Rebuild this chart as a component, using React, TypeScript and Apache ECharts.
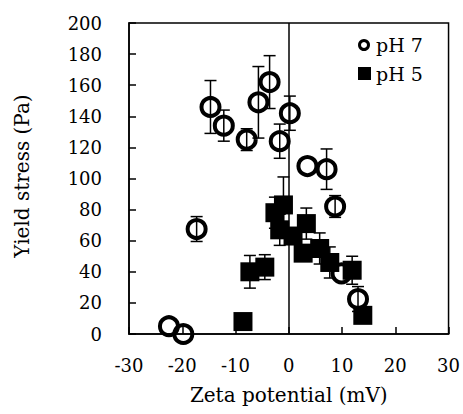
import React, { useEffect, useRef } from "react";
import * as echarts from "echarts";

const ph7X = [-22.5, -19.8, -17.3, -14.7, -12.2, -7.9, -5.7, -3.6, -1.7, 0.2, 3.5, 7.1, 8.7, 9.9, 13.0];
const ph7Y = [5, 0, 67.5, 146, 134, 125, 149, 162, 124, 142, 108, 106, 82, 39, 22.5];
const ph7Err = [0, 0, 8, 17, 10, 7, 23, 17, 11, 11, 0, 13, 7, 0, 8];

const ph5X = [-8.6, -7.3, -4.5, -2.6, -1.0, -1.7, 0.8, 2.7, 3.3, 5.8, 7.7, 11.9, 13.9];
const ph5Y = [8, 40, 43, 78, 83, 67, 63, 52, 71, 55, 46, 41, 12];
const ph5Err = [0, 10.5, 8, 10, 18, 10, 5, 4, 10, 10, 10, 9, 0];

const xTicks = { min: -30, max: 30, interval: 10 };
const yTicks = { min: 0, max: 200, interval: 20 };

const seriesNames = ["pH 7", "pH 5"];
const xTitle = "Zeta potential (mV)";
const yTitle = "Yield stress (Pa)";

const FONT = "DejaVu Serif";

function errorSeries(xs: number[], ys: number[], es: number[], z: number) {
  return {
    type: "custom",
    z,
    silent: true,
    data: xs.map((x, i) => [x, ys[i], es[i]]),
    renderItem: (params: any, api: any) => {
      const x = api.value(0);
      const y = api.value(1);
      const e = api.value(2);
      if (!e) return { type: "group", children: [] };
      const top = api.coord([x, y + e]);
      const bot = api.coord([x, y - e]);
      const hw = 6;
      const style = { stroke: "#000", lineWidth: 1.5 };
      return {
        type: "group",
        children: [
          { type: "line", shape: { x1: top[0], y1: top[1], x2: bot[0], y2: bot[1] }, style },
          { type: "line", shape: { x1: top[0] - hw, y1: top[1], x2: top[0] + hw, y2: top[1] }, style },
          { type: "line", shape: { x1: bot[0] - hw, y1: bot[1], x2: bot[0] + hw, y2: bot[1] }, style },
        ],
      };
    },
  };
}

export default function App() {
  const ref = useRef<HTMLDivElement>(null);
  useEffect(() => {
    if (!ref.current) return;
    const chart = echarts.init(ref.current, null, { renderer: "svg" });
    const labelStyle = { fontFamily: FONT, fontSize: 18, color: "#000" };
    chart.setOption({
      animation: false,
      backgroundColor: "#fff",
      grid: {
        left: 129,
        right: 14,
        top: 23,
        bottom: 80,
        show: true,
        borderColor: "#000",
        borderWidth: 1.5,
      },
      xAxis: {
        type: "value",
        min: xTicks.min,
        max: xTicks.max,
        interval: xTicks.interval,
        name: xTitle,
        nameLocation: "middle",
        nameGap: 51,
        nameTextStyle: { fontFamily: FONT, fontSize: 20, color: "#000" },
        axisLine: { show: true, onZero: false, lineStyle: { color: "#000", width: 1.5 } },
        axisTick: { show: true, inside: true, length: 7, lineStyle: { color: "#000", width: 1.5 } },
        axisLabel: { ...labelStyle, margin: 22 },
        splitLine: { show: false },
      },
      yAxis: {
        type: "value",
        min: yTicks.min,
        max: yTicks.max,
        interval: yTicks.interval,
        axisLine: { show: true, onZero: false, lineStyle: { color: "#000", width: 1.5 } },
        axisTick: { show: true, inside: true, length: 7, lineStyle: { color: "#000", width: 1.5 } },
        axisLabel: { ...labelStyle, margin: 27 },
        splitLine: { show: false },
      },
      graphic: [
        {
          type: "text",
          x: 22,
          y: 176,
          rotation: Math.PI / 2,
          style: {
            text: yTitle,
            fontFamily: FONT,
            fontSize: 20,
            fill: "#000",
            align: "center",
            verticalAlign: "middle",
          },
        },
        {
          type: "circle",
          shape: { cx: 364, cy: 45, r: 4.5 },
          style: { fill: "#fff", stroke: "#000", lineWidth: 3 },
        },
        {
          type: "text",
          x: 376,
          y: 45,
          style: { text: seriesNames[0], fontFamily: FONT, fontSize: 19, fill: "#000", verticalAlign: "middle" },
        },
        {
          type: "rect",
          shape: { x: 358, y: 67, width: 13, height: 13 },
          style: { fill: "#000" },
        },
        {
          type: "text",
          x: 376,
          y: 74,
          style: { text: seriesNames[1], fontFamily: FONT, fontSize: 19, fill: "#000", verticalAlign: "middle" },
        },
      ],
      series: [
        {
          name: seriesNames[0],
          type: "scatter",
          z: 2,
          symbol: "circle",
          symbolSize: 18,
          itemStyle: { color: "rgba(255,255,255,0)", borderColor: "#000", borderWidth: 4, opacity: 1 },
          data: ph7X.map((x, i) => [x, ph7Y[i]]),
          markLine: {
            silent: true,
            symbol: "none",
            label: { show: false },
            lineStyle: { color: "#000", width: 1.5, type: "solid" },
            data: [{ xAxis: 0 }],
          },
        },
        errorSeries(ph7X, ph7Y, ph7Err, 3),
        {
          name: seriesNames[1],
          type: "scatter",
          z: 4,
          symbol: "rect",
          symbolSize: 19,
          itemStyle: { color: "#000", opacity: 1 },
          data: ph5X.map((x, i) => [x, ph5Y[i]]),
        },
        errorSeries(ph5X, ph5Y, ph5Err, 5),
      ],
    });
    return () => chart.dispose();
  }, []);
  return (
    <div
      ref={ref}
      style={{ position: "absolute", left: 0, top: 0, width: 463, height: 414 }}
    />
  );
}
